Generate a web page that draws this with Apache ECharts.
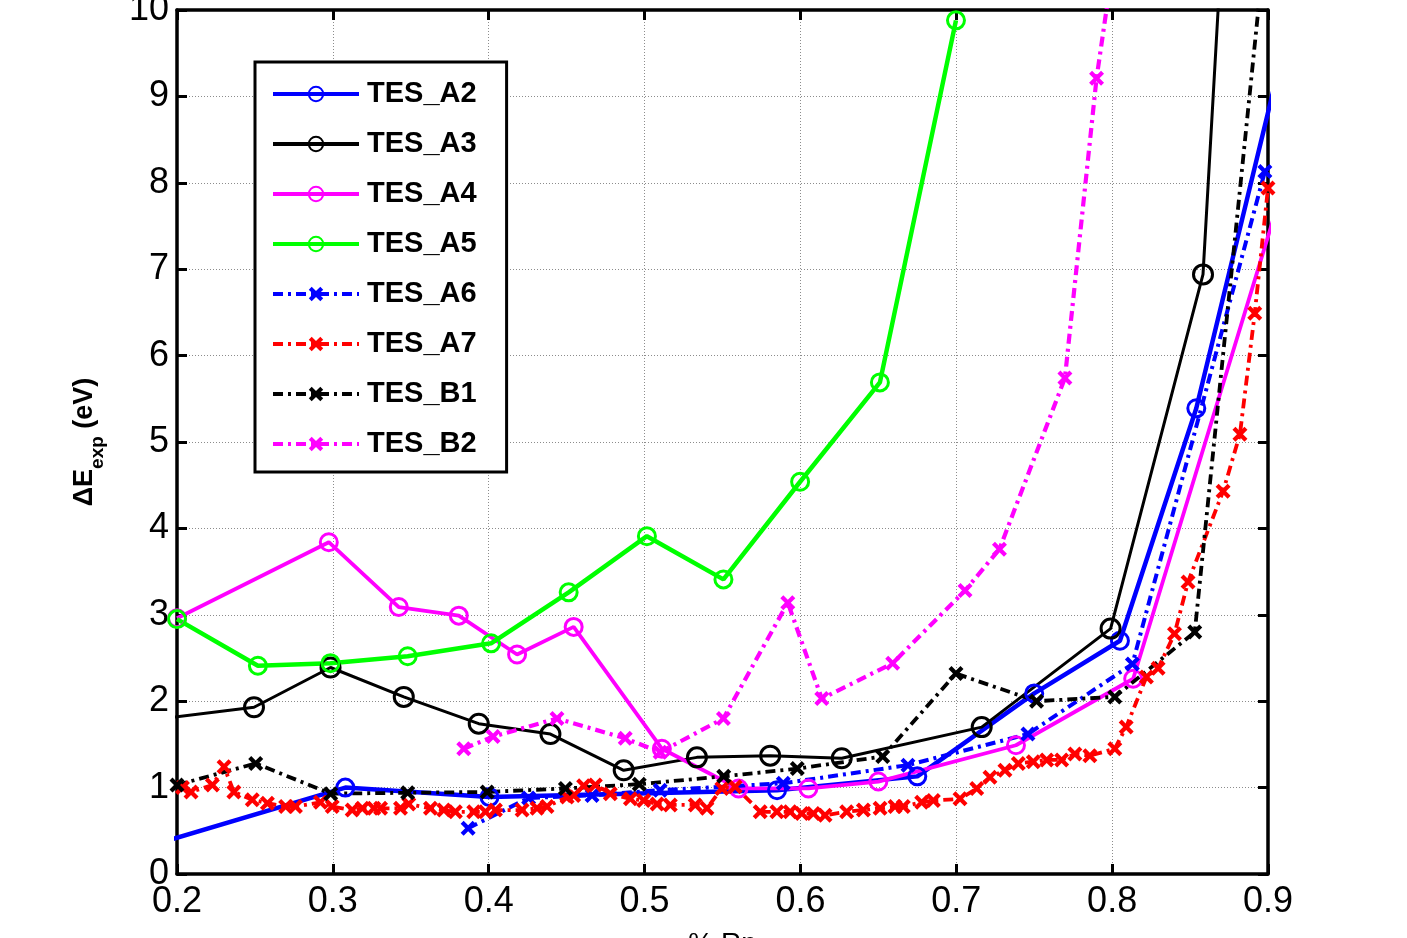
<!DOCTYPE html>
<html>
<head>
<meta charset="utf-8">
<script src="https://cdn.jsdelivr.net/npm/echarts@6/dist/echarts.min.js"></script>
<style>html,body{margin:0;padding:0;background:#fff}#c{width:1407px;height:938px}</style>
</head>
<body>
<div id="c"></div>
<script>
// ---- data (x = % Rp, y = ΔE_exp in eV) ----
const seriesNames = ['TES_A2','TES_A3','TES_A4','TES_A5','TES_A6','TES_A7','TES_B1','TES_B2'];
const xTicks = [0.2,0.3,0.4,0.5,0.6,0.7,0.8,0.9];
const yTicks = [0,1,2,3,4,5,6,7,8,9,10];

const a2x = [0.15,0.308,0.4005,0.585,0.675,0.75,0.805,0.854,0.92];
const a2y = [0.15,1.00,0.89,0.97,1.13,2.09,2.70,5.39,10.3];

const a3x = [0.15,0.2494,0.2985,0.3455,0.3936,0.4396,0.4866,0.5336,0.5806,0.6265,0.7163,0.799,0.8583,0.88];
const a3y = [1.71,1.93,2.39,2.05,1.74,1.62,1.20,1.35,1.37,1.34,1.70,2.84,6.94,13.8];

const a4x = [0.2,0.2974,0.3423,0.3808,0.4182,0.4545,0.5111,0.5603,0.6051,0.65,0.7383,0.8135,0.92];
const a4y = [2.96,3.84,3.09,2.99,2.54,2.86,1.45,0.99,0.99,1.07,1.49,2.26,8.56];

const a5x = [0.2,0.2519,0.2985,0.348,0.4015,0.4513,0.5015,0.5506,0.5998,0.651,0.6998];
const a5y = [2.95,2.41,2.44,2.52,2.67,3.26,3.91,3.41,4.54,5.69,9.88];

const a6x = [0.3868,0.4256,0.4663,0.51,0.589,0.669,0.746,0.813,0.898];
const a6y = [0.53,0.88,0.91,0.97,1.05,1.26,1.62,2.43,8.13];

const a7x = [0.2035,0.209,0.2227,0.2302,0.2365,0.2483,0.258,0.2697,0.276,0.292,0.2996,0.3124,0.3189,0.3263,0.3306,0.3434,0.3487,
  0.3626,0.3712,0.3786,0.3904,0.3979,0.4043,0.4214,0.431,0.4374,0.4503,0.4545,0.4609,0.4684,0.478,0.4909,0.4994,0.508,0.5165,
  0.5325,0.54,0.5496,0.5581,0.5742,0.5849,0.5934,0.6009,0.6083,0.6158,0.6297,0.6404,0.6511,0.6607,0.666,0.6778,0.6853,0.7024,
  0.7131,0.7216,0.7312,0.7398,0.7494,0.758,0.7676,0.7761,0.7857,0.8017,0.809,0.822,0.8295,0.84,0.8487,0.8712,0.882,0.8915,0.9];
const a7y = [1.00,0.95,1.03,1.24,0.95,0.86,0.82,0.78,0.78,0.83,0.78,0.74,0.76,0.76,0.76,0.76,0.81,
  0.76,0.74,0.72,0.72,0.72,0.74,0.74,0.76,0.78,0.89,0.91,1.02,1.03,0.93,0.87,0.85,0.81,0.80,
  0.80,0.76,0.99,1.01,0.72,0.72,0.72,0.70,0.70,0.68,0.72,0.74,0.76,0.78,0.78,0.83,0.85,0.87,
  0.99,1.12,1.20,1.28,1.30,1.32,1.32,1.39,1.37,1.45,1.70,2.28,2.38,2.78,3.38,4.43,5.09,6.49,7.94];

const b1x = [0.2,0.2505,0.2986,0.348,0.399,0.4492,0.4966,0.5508,0.598,0.6528,0.6998,0.7515,0.8017,0.853,0.9];
const b1y = [1.03,1.28,0.93,0.94,0.95,0.99,1.04,1.13,1.22,1.36,2.32,2.00,2.05,2.80,11.1];

const b2x = [0.384,0.4028,0.4438,0.4876,0.51,0.5506,0.5919,0.6137,0.6592,0.7056,0.7277,0.7697,0.79,0.81];
const b2y = [1.45,1.59,1.80,1.57,1.41,1.80,3.14,2.03,2.44,3.28,3.76,5.74,9.21,11.7];

// ---- build ----
const pair = (xs, ys) => xs.map((x, i) => [x, ys[i]]);
const X_PATH = 'path://M2,0 L5,3 L8,0 L10,2 L7,5 L10,8 L8,10 L5,7 L2,10 L0,8 L3,5 L0,2 Z';
const DASHDOT = [10, 5, 3, 5];

function circleSeries(name, xs, ys, color, width, size, bw) {
  return {
    name, type: 'line', data: pair(xs, ys), clip: true,
    symbol: 'circle', symbolSize: size,
    itemStyle: { color: 'rgba(255,255,255,0)', borderColor: color, borderWidth: bw },
    lineStyle: { color, width, type: 'solid' },
    emphasis: { disabled: true }, animation: false
  };
}
function crossSeries(name, xs, ys, color, width) {
  return {
    name, type: 'line', data: pair(xs, ys), clip: true,
    symbol: X_PATH, symbolSize: 15,
    itemStyle: { color, borderWidth: 0 },
    lineStyle: { color, width, type: DASHDOT },
    emphasis: { disabled: true }, animation: false
  };
}

const series = [
  circleSeries('TES_A2', a2x, a2y, '#0000ff', 4.5, 17, 3),
  circleSeries('TES_A3', a3x, a3y, '#000000', 3, 19, 3),
  circleSeries('TES_A4', a4x, a4y, '#ff00ff', 3.8, 17, 3),
  circleSeries('TES_A5', a5x, a5y, '#00ff00', 4.5, 17, 3),
  crossSeries('TES_A6', a6x, a6y, '#0000ff', 4),
  crossSeries('TES_A7', a7x, a7y, '#ff0000', 3.8),
  crossSeries('TES_B1', b1x, b1y, '#000000', 3.8),
  crossSeries('TES_B2', b2x, b2y, '#ff00ff', 4.2)
];

const FONT = '"Liberation Sans", Arial, Helvetica, sans-serif';
const axisLine = { show: true, onZero: false, lineStyle: { color: '#000', width: 3.5 } };
const tick = { show: true, inside: true, length: 10, lineStyle: { color: '#000', width: 3 } };
const grid = { show: true, lineStyle: { color: '#8c8c8c', width: 1, type: [1, 2] } };

const chart = echarts.init(document.getElementById('c'), null, { renderer: 'canvas' });
chart.setOption({
  backgroundColor: '#ffffff',
  animation: false,
  grid: { left: 177, right: 139, top: 10, bottom: 64, containLabel: false, outerBoundsMode: 'none' },
  xAxis: [
    { type: 'value', min: xTicks[0], max: xTicks[xTicks.length - 1], interval: 0.1,
      axisLine, axisTick: tick, splitLine: grid,
      axisLabel: { color: '#000', fontSize: 36, fontFamily: FONT, margin: 10,
        formatter: v => xTicks.find(t => Math.abs(t - v) < 1e-6)?.toFixed(1) ?? '' },
      name: '% Rp', nameLocation: 'middle', nameGap: 56,
      nameTextStyle: { color: '#000', fontSize: 28, fontFamily: FONT } },
    { type: 'value', position: 'top', min: xTicks[0], max: xTicks[xTicks.length - 1], interval: 0.1,
      axisLine, axisTick: tick, axisLabel: { show: false }, splitLine: { show: false } }
  ],
  yAxis: [
    { type: 'value', min: yTicks[0], max: yTicks[yTicks.length - 1], interval: 1,
      axisLine, axisTick: tick, splitLine: grid,
      axisLabel: { color: '#000', fontSize: 36, fontFamily: FONT, margin: 8 },
      name: '{a|ΔE}{s|exp}{a| (eV)}', nameLocation: 'middle', nameGap: 70, nameRotate: 90,
      nameTextStyle: { color: '#000', fontFamily: FONT,
        rich: {
          a: { fontSize: 27, fontWeight: 'bold', fontFamily: FONT, color: '#000', lineHeight: 36, verticalAlign: 'top' },
          s: { fontSize: 19, fontWeight: 'bold', fontFamily: FONT, color: '#000', lineHeight: 36, verticalAlign: 'bottom', padding: [15, 0, 0, 0] }
        } } },
    { type: 'value', position: 'right', min: yTicks[0], max: yTicks[yTicks.length - 1], interval: 1,
      axisLine, axisTick: tick, axisLabel: { show: false }, splitLine: { show: false } }
  ],
  legend: {
    data: seriesNames, orient: 'vertical', left: 255, top: 62,
    padding: [16, 30, 12, 16], itemGap: 18, itemWidth: 86, itemHeight: 18,
    borderColor: '#000', borderWidth: 3, backgroundColor: '#fff',
    selectedMode: false,
    lineStyle: { width: 4 },
    textStyle: { color: '#000', fontSize: 29, fontWeight: 'bold', fontFamily: FONT, lineHeight: 32, padding: [0, 0, 0, 3] }
  },
  series
});
</script>
</body>
</html>
